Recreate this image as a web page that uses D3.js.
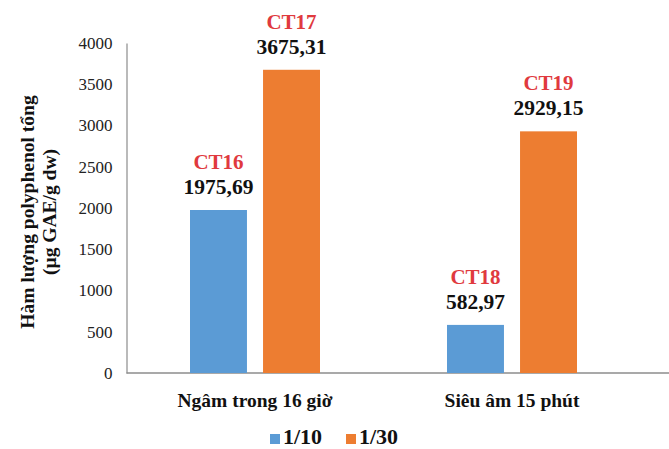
<!DOCTYPE html>
<html><head><meta charset="utf-8">
<script src="https://cdn.jsdelivr.net/npm/d3@7"></script>
<style>body{margin:0;background:#fff}svg{display:block}</style>
</head><body>
<script>
const categories = ["Ngâm trong 16 giờ", "Siêu âm 15 phút"];
const seriesNames = ["1/10", "1/30"];
const values110 = [1975.69, 582.97];
const values130 = [3675.31, 2929.15];
const codes110 = ["CT16", "CT18"];
const codes130 = ["CT17", "CT19"];
const yTicks = [0, 500, 1000, 1500, 2000, 2500, 3000, 3500, 4000];
const colors = ["#5B9BD5", "#ED7D31"];

const W = 669, H = 449;
const svg = d3.select("body").append("svg").attr("width", W).attr("height", H);
const serif = "'Liberation Serif','Times New Roman',serif";

const x0 = d3.scaleBand().domain(categories).range([126.5, 640.5]).paddingInner(0).paddingOuter(0);
const x1 = d3.scaleBand().domain(seriesNames).range([63.5, 193.5]).paddingInner(0.22);
const y = d3.scaleLinear().domain([0, 4000]).range([373, 43]);

const rows = categories.map((c, i) => ({
  cat: c,
  items: [
    {s: seriesNames[0], v: values110[i], code: codes110[i], color: colors[0]},
    {s: seriesNames[1], v: values130[i], code: codes130[i], color: colors[1]}
  ]
}));

// y axis
const yAxis = d3.axisLeft(y).tickValues(yTicks).tickSize(0).tickPadding(14).tickFormat(d3.format("d"));
const gy = svg.append("g").attr("transform", "translate(126.5,0)").call(yAxis);
gy.select(".domain").attr("stroke", "#8c8c8c").attr("stroke-width", 1.2);
gy.selectAll("text").attr("font-family", serif).attr("font-size", 17).attr("fill", "#222");

// x axis line
svg.append("line").attr("x1", 126.5).attr("x2", 669).attr("y1", y(0)).attr("y2", y(0))
  .attr("stroke", "#8c8c8c").attr("stroke-width", 1.5);

// bars
const g = svg.selectAll(".grp").data(rows).enter().append("g")
  .attr("transform", d => `translate(${x0(d.cat)},0)`);
g.selectAll("rect").data(d => d.items).enter().append("rect")
  .attr("x", d => x1(d.s)).attr("width", x1.bandwidth())
  .attr("y", d => y(d.v)).attr("height", d => y(0) - y(d.v))
  .attr("fill", d => d.color);
g.selectAll(".val").data(d => d.items).enter().append("text")
  .attr("x", d => x1(d.s) + x1.bandwidth() / 2).attr("y", d => y(d.v) - 16)
  .attr("text-anchor", "middle").attr("font-family", serif).attr("font-weight", "bold")
  .attr("font-size", 21.5).attr("fill", "#111")
  .text(d => d.v.toFixed(2).replace(".", ","));
g.selectAll(".code").data(d => d.items).enter().append("text")
  .attr("x", d => x1(d.s) + x1.bandwidth() / 2).attr("y", d => y(d.v) - 41)
  .attr("text-anchor", "middle").attr("font-family", serif).attr("font-weight", "bold")
  .attr("font-size", 21).attr("fill", "#E03A3E")
  .text(d => d.code);

// category labels
svg.selectAll(".cat").data(categories).enter().append("text")
  .attr("x", d => x0(d) + x0.bandwidth() / 2).attr("y", 407)
  .attr("text-anchor", "middle").attr("font-family", serif).attr("font-weight", "bold")
  .attr("font-size", 19.5).attr("fill", "#111").text(d => d);

// y title
const yt = svg.append("text").attr("transform", "translate(0,212) rotate(-90)")
  .attr("text-anchor", "middle").attr("font-family", serif).attr("font-weight", "bold")
  .attr("font-size", 19.5).attr("fill", "#111");
yt.append("tspan").attr("x", 0).attr("y", 34).text("Hàm lượng polyphenol tổng");
yt.append("tspan").attr("x", 0).attr("y", 56).text("(µg GAE/g dw)");

// legend
const legX = [270, 346];
const lg = svg.selectAll(".leg").data(seriesNames).enter().append("g")
  .attr("transform", (d, i) => `translate(${legX[i]},0)`);
lg.append("rect").attr("x", 0).attr("y", 434).attr("width", 10).attr("height", 10)
  .attr("fill", (d, i) => colors[i]);
lg.append("text").attr("x", 13).attr("y", 444).attr("font-family", serif).attr("font-weight", "bold")
  .attr("font-size", 22).attr("fill", "#111").text(d => d);
</script>
</body></html>
